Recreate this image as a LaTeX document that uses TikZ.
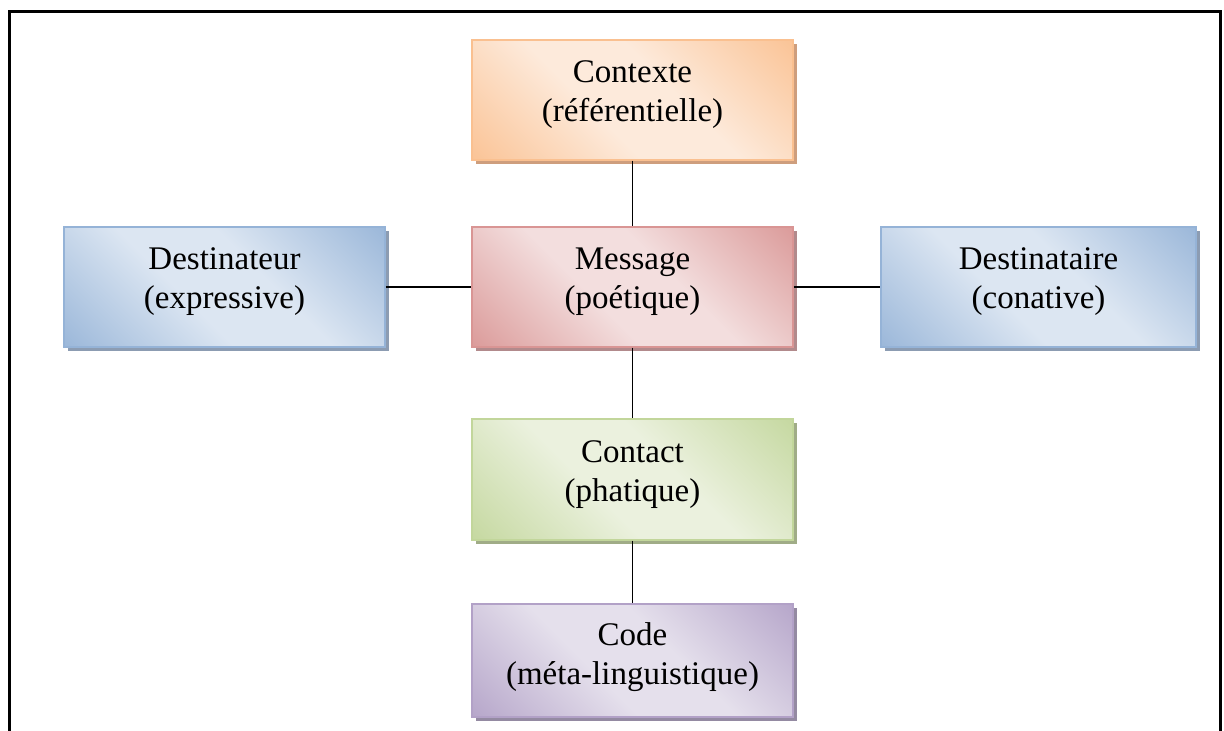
\documentclass[tikz,border=0pt]{standalone}
\usepackage{fontspec}
\setmainfont{Liberation Serif}
\usetikzlibrary{shadows}
% colours
\definecolor{ordk}{RGB}{250,192,144}\definecolor{orlt}{RGB}{253,234,219}\definecolor{orsd}{RGB}{206,158,125}
\definecolor{rddk}{RGB}{217,149,148}\definecolor{rdlt}{RGB}{243,222,222}\definecolor{rdsd}{RGB}{178,138,140}
\definecolor{bldk}{RGB}{149,179,215}\definecolor{bllt}{RGB}{220,230,242}\definecolor{blsd}{RGB}{140,156,178}
\definecolor{grdk}{RGB}{194,214,155}\definecolor{grlt}{RGB}{235,241,222}\definecolor{grsd}{RGB}{160,172,135}
\definecolor{pudk}{RGB}{178,161,199}\definecolor{pult}{RGB}{229,224,236}\definecolor{pusd}{RGB}{148,138,162}
\pgfdeclarehorizontalshading{orsh}{100bp}{color(0bp)=(ordk); color(12bp)=(ordk); color(42bp)=(orlt); color(58bp)=(orlt); color(88bp)=(ordk); color(100bp)=(ordk)}
\pgfdeclarehorizontalshading{rdsh}{100bp}{color(0bp)=(rddk); color(12bp)=(rddk); color(42bp)=(rdlt); color(58bp)=(rdlt); color(88bp)=(rddk); color(100bp)=(rddk)}
\pgfdeclarehorizontalshading{blsh}{100bp}{color(0bp)=(bldk); color(12bp)=(bldk); color(42bp)=(bllt); color(58bp)=(bllt); color(88bp)=(bldk); color(100bp)=(bldk)}
\pgfdeclarehorizontalshading{grsh}{100bp}{color(0bp)=(grdk); color(12bp)=(grdk); color(42bp)=(grlt); color(58bp)=(grlt); color(88bp)=(grdk); color(100bp)=(grdk)}
\pgfdeclarehorizontalshading{push}{100bp}{color(0bp)=(pudk); color(12bp)=(pudk); color(42bp)=(pult); color(58bp)=(pult); color(88bp)=(pudk); color(100bp)=(pudk)}
\tikzset{
  box/.style={draw=#1dk, line width=1.5pt, shade, shading=#1sh, shading angle=45,
    minimum width=321pt, minimum height=120pt, inner sep=0pt, align=center,
    font=\fontsize{33}{39}\selectfont, text depth=17pt,
    drop shadow={shadow xshift=4pt, shadow yshift=-4pt, fill=#1sd, opacity=1}},
  conn/.style={draw=black, line width=1.5pt},
  frame/.style={draw=black, line width=3pt}
}
\begin{document}
\begin{tikzpicture}[x=1pt,y=1pt]
\useasboundingbox (0,0) rectangle (1224,731);
\draw[frame] (9.5,-10) -- (9.5,719.5) -- (1220.5,719.5) -- (1220.5,-10);
\node[box=or] (ctx) at (632.5,631) {Contexte\\(référentielle)};
\node[box=rd] (msg) at (632.5,444) {Message\\(poétique)};
\node[box=bl] (dst) at (224.5,444) {Destinateur\\(expressive)};
\node[box=bl, minimum width=315pt] (dre) at (1038.5,444) {Destinataire\\(conative)};
\node[box=gr, minimum height=121pt] (cnt) at (632.5,251.5) {Contact\\(phatique)};
\node[box=pu, minimum height=113pt, text depth=13pt] (code) at (632.5,70.5) {Code\\(méta-linguistique)};
\draw[conn] (ctx) -- (msg);
\draw[conn] (dst) -- (msg);
\draw[conn] (msg) -- (dre);
\draw[conn] (msg) -- (cnt);
\draw[conn] (cnt) -- (code);
\end{tikzpicture}
\end{document}
